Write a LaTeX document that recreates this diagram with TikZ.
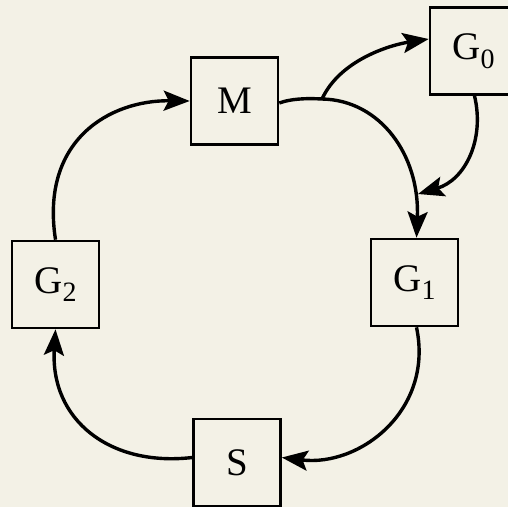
\documentclass[tikz,border=0pt]{standalone}
\usepackage{fontspec}
\setmainfont{Liberation Serif}
\usetikzlibrary{arrows.meta}
\definecolor{paper}{HTML}{F3F1E6}
\newcommand{\subx}[1]{\raisebox{-0.22em}{\fontsize{28}{28}\selectfont #1}}
\tikzset{
  blk/.style={draw=black, line width=2.6pt, fill=paper, minimum width=87pt, minimum height=87pt, inner sep=0pt, font=\fontsize{39}{39}\selectfont},
  conn/.style={line width=3.4pt, -{Stealth[length=26pt,width=20pt,inset=5pt]}},
}
\begin{document}
\begin{tikzpicture}[x=1pt,y=-1pt]
\fill[paper] (0,0) rectangle (508,507);
\useasboundingbox (0,0) rectangle (508,507);
\clip (0,0) rectangle (508,507);
\node[blk] (M) at (234.5,101) {M};
\node[blk] (G0) at (473.5,51) {G\subx{0}};
\node[blk] (G1) at (414.5,282.5) {G\subx{1}};
\node[blk] (G2) at (55.5,284.5) {G\subx{2}};
\node[blk] (S) at (237,462.5) {S};
\coordinate (j) at (322,99);
\coordinate (k) at (418,194);
% M -> G1 via split
\draw[conn] ([yshift=-2pt]M.east) .. controls (290,99) and (305,98) .. (j)
  .. controls (380,100) and (420,155) .. ([xshift=2pt]G1.north);
% split -> G0
\draw[conn] (j) .. controls (340,60) and (390,45) .. ([yshift=12pt]G0.west);
% G0 -> G1 curve
\draw[conn] ([xshift=1pt]G0.south) .. controls (485,140) and (465,180) .. (k);
% G1 -> S
\draw[conn] ([xshift=2pt]G1.south) .. controls (434,410) and (360,467) .. ([yshift=5pt]S.east);
% S -> G2
\draw[conn] ([yshift=5pt]S.west) .. controls (110,467) and (50,420) .. (G2.south);
% G2 -> M
\draw[conn] (G2.north) .. controls (40,140) and (110,100) .. (M.west);
\end{tikzpicture}
\end{document}
